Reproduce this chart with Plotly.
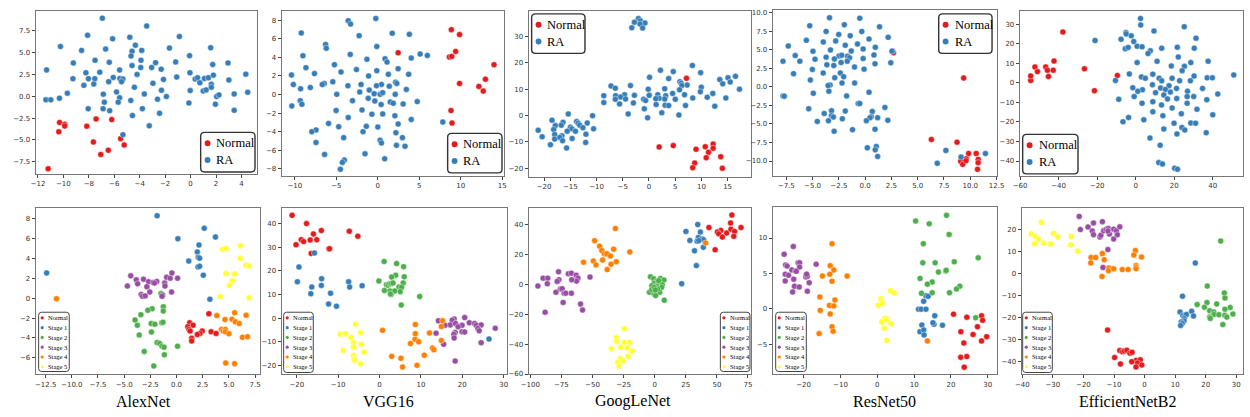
import plotly.graph_objects as go

# ---------------- DATA ----------------
# Top row: Normal vs RA
ALEX_TOP_NORMAL = [(-11.2,-8.3),(-10.3,-3.0),(-10.36,-4.07),(-9.9,-3.2),(-9.9,-3.4),(-8.16,-3.43),(-7.43,-2.6),
                   (-6.2,-2.68),(-7.64,-5.24),(-7.06,-6.67),(-6.47,-6.18),(-5.5,-4.86),(-5.22,-5.58)]
ALEX_TOP_RA = [(-6.94,8.93),(-3.45,8.03),(-8.1,6.97),(-10.23,5.69),(-4.78,6.75),(-0.88,6.82),(-6.13,6.56),(-8.57,5.24),
               (-6.68,5.39),(-4.34,5.84),(-4.6,5.13),(-3.84,5.24),(-1.66,5.5),(-0.08,4.64),(1.58,5.54),(-4.68,4.6),
               (-3.9,4.11),(-7.51,4.11),(-6.39,3.88),(-9.22,3.81),(-2.75,3.84),(-1.17,3.92),(2.94,3.81),(1.74,3.62),
               (-4.6,3.5),(-3.92,3.28),(-3.06,3.28),(-11.32,3.01),(-2.31,3.09),(-8.23,2.68),(-7.14,2.75),(-5.58,3.0),
               (-4.21,2.49),(-0.05,2.68),(4.34,2.52),(-1.09,2.19),(-6.08,2.15),(-5.56,2.03),(-5.32,1.96),(-7.53,2.0),
               (-8.03,2.0),(-9.25,2.0),(-5.43,1.66),(-6.44,1.66),(-2.13,1.92),(0.36,1.96),(0.55,2.11),(1.09,2.03),
               (1.4,2.11),(1.79,2.41),(3.01,1.85),(0.73,1.54),(-2.96,1.47),(-7.61,1.39),(-8.39,1.24),(1.63,1.36),
               (1.63,1.02),(-4.42,1.02),(-9.69,0.34),(-5.82,0.49),(-2.29,0.68),(-0.03,0.64),(0.99,0.6),(1.22,0.72),
               (-6.86,0.23),(-3.64,0.26),(2.05,-0.04),(2.23,0.15),(3.43,0.26),(4.49,0.45),(-11.38,-0.42),(-10.99,-0.42),
               (-10.31,-0.23),(-5.58,-0.19),(-1.9,-0.04),(-2.6,-0.34),(-6.78,-0.68),(-5.69,-0.68),(-4.7,-0.49),
               (-0.13,-0.79),(1.95,-0.91),(-8.05,-1.43),(-6.88,-1.43),(-6.36,-1.66),(-3.79,-1.43),(3.43,-1.62),
               (-2.44,-1.96),(-4.57,-2.22),(-3.25,-3.39),(-5.32,-4.41)]

VGG_TOP_NORMAL = [(8.86,6.97),(9.85,6.44),(9.38,4.63),(8.62,4.03),(8.9,4.1),(2.45,4.49),(14.0,3.21),(12.97,1.65),
                  (9.85,1.19),(12.18,0.87),(12.7,0.37),(8.82,-1.72),(8.94,-3.07)]
VGG_TOP_RA = [(-0.24,8.17),(-3.56,7.93),(-3.28,7.57),(-9.22,6.62),(1.74,6.58),(3.8,6.47),(-2.25,6.33),(-6.29,5.37),
              (-6.21,4.98),(-0.12,5.16),(-3.32,4.31),(-9.02,4.17),(5.1,4.35),(5.97,4.2),(4.03,3.92),(-1.31,3.78),
              (0.87,3.85),(1.11,3.49),(-5.22,3.21),(-8.66,2.89),(2.45,2.78),(-2.57,2.68),(-4.43,2.43),(-0.12,2.57),
              (-7.63,2.25),(1.27,2.18),(3.72,2.18),(-10.4,2.11),(-1.11,2.0),(-5.42,1.37),(-6.45,1.19),(-6.69,1.08),
              (-10.17,1.08),(-2.02,1.08),(0.44,1.08),(-0.16,0.94),(-3.6,0.94),(1.38,0.9),(2.14,1.33),(2.29,1.19),
              (-8.13,0.76),(-9.3,0.62),(3.44,0.55),(-2.18,0.27),(-1.03,0.48),(-0.44,0.09),(0.28,0.02),(0.59,0.2),
              (2.1,0.02),(-4.94,0.02),(-9.34,-0.66),(-9.14,-1.05),(-10.36,-1.22),(-3.05,-0.66),(-1.15,-0.41),
              (-0.36,-0.69),(1.5,-0.8),(1.86,-0.94),(3.05,-1.01),(4.75,-0.76),(0.4,-1.08),(-5.02,-1.72),(-1.9,-1.65),
              (-0.71,-2.11),(0.59,-2.08),(2.06,-2.29),(-3.56,-2.47),(4.03,-2.68),(7.83,-2.96),(-5.93,-3.1),(2.45,-3.17),
              (-1.38,-3.42),(-4.71,-3.46),(0.0,-3.49),(-7.44,-3.81),(-7.95,-3.99),(2.18,-4.1),(-1.78,-3.99),
              (-4.11,-4.63),(2.97,-4.63),(0.28,-4.91),(0.44,-5.2),(-7.44,-5.16),(2.25,-5.45),(3.28,-5.56),
              (-6.41,-6.44),(-1.54,-6.37),(0.83,-6.9),(-4.03,-7.04),(-4.27,-7.29),(-4.51,-8.03)]

GOOG_TOP_NORMAL = [(7.15,14.08),(1.94,-11.9),(4.64,-11.4),(10.74,-11.8),(12.24,-10.8),(12.24,-12.4),(8.98,-12.8),
                   (11.36,-13.9),(10.92,-16.0),(13.69,-15.6),(8.72,-18.0),(8.35,-19.75),(14.0,-20.0)]
GOOG_TOP_RA = [(-2.02,36.7),(-1.65,35.8),(-2.78,35.3),(-0.77,35.0),(-1.71,34.6),(-3.28,33.2),(-1.21,33.1),
               (8.28,18.9),(2.19,17.1),(4.64,16.6),(9.86,16.2),(16.5,14.8),(15.07,14.3),(0.11,14.45),(3.76,13.96),
               (13.5,13.6),(5.9,12.8),(6.15,12.2),(15.5,12.7),(14.07,11.96),(-7.24,11.2),(-3.53,11.3),(7.28,11.5),
               (6.27,11.35),(-6.42,10.35),(-0.14,9.97),(3.0,10.1),(9.98,10.7),(17.27,9.97),(5.83,9.7),(9.8,8.98),
               (4.51,8.36),(-8.62,7.5),(-6.36,7.5),(-4.66,7.86),(-2.78,7.61),(0.05,7.61),(1.68,7.86),(3.19,7.5),
               (6.78,7.86),(12.18,8.36),(1.94,6.48),(-5.42,7.0),(-4.47,6.24),(-6.42,6.12),(1.31,6.36),(3.0,6.24),
               (8.35,6.6),(5.02,6.12),(11.11,6.87),(14.66,6.6),(-1.02,6.12),(-0.64,5.62),(-8.62,4.87),(-5.61,4.38),
               (-2.97,4.75),(1.37,4.13),(3.07,3.88),(3.76,3.76),(6.97,3.76),(12.56,3.5),(-0.89,2.5),(2.44,1.0),
               (-3.97,0.6),(5.71,0.2),(-0.26,-0.9),
               (-15.4,0.6),(-10.76,-0.1),(-18.5,-1.8),(-13.8,-2.3),(-16.4,-2.6),(-17.86,-3.83),(-16.73,-3.7),
               (-13.5,-2.96),(-11.77,-2.84),(-13.2,-3.7),(-15.0,-4.45),(-12.6,-4.6),(-10.57,-5.07),(-14.72,-5.07),
               (-18.18,-5.32),(-21.13,-5.57),(-15.6,-5.95),(-14.03,-5.95),(-12.02,-7.06),(-17.99,-7.2),(-20.38,-8.06),
               (-16.6,-7.7),(-17.99,-8.93),(-17.0,-8.3),(-14.66,-8.68),(-16.48,-9.55),(-12.08,-10.2),(-18.8,-11.05),
               (-15.72,-12.3)]

RES_TOP_NORMAL = [(2.69,4.57),(9.37,1.18),(6.3,-7.1),(8.74,-7.46),(9.09,-10.04),(9.28,-10.45),(9.62,-9.69),
                  (9.59,-9.96),(9.84,-8.98),(10.56,-8.98),(10.75,-9.78),(10.75,-10.22),(10.69,-11.11)]
RES_TOP_RA = [(-3.39,9.29),(-0.51,9.24),(-5.27,8.22),(-1.98,8.35),(1.37,8.08),(-3.71,7.46),(-0.32,7.46),(-2.51,7.06),
              (-1.42,6.88),(-5.59,6.26),(0.37,6.44),(2.19,6.66),(-3.98,6.04),(-2.8,6.17),(-0.73,5.77),(-7.31,5.5),
              (-1.89,5.59),(0.97,5.32),(-4.96,4.79),(-3.3,4.97),(-1.32,4.83),(-0.19,5.1),(2.6,4.83),(-6.65,4.21),
              (-3.71,3.99),(-2.48,4.16),(-2.23,4.25),(-1.67,4.12),(-1.48,3.9),(0.84,4.3),(-6.21,3.45),(-4.77,3.72),
              (-2.92,3.76),(-1.7,3.45),(-0.19,3.81),(-7.81,3.45),(-2.29,3.27),(0.94,3.1),(2.44,3.23),(-3.64,2.96),
              (-2.98,2.87),(-1.01,2.65),(-6.81,1.76),(-5.02,2.34),(-0.1,2.38),(-3.99,1.85),(-2.36,1.85),(-2.04,1.36),
              (-2.89,1.22),(-5.21,0.91),(-2.2,0.51),(-1.0,0.51),(-3.33,0.24),(-3.52,0.16),(-7.81,-1.23),(-7.69,-1.27),
              (-4.93,-0.87),(-3.45,-0.6),(0.37,-0.73),(-1.76,-1.23),(-0.66,-2.25),(-0.51,-2.25),(-5.37,-2.96),
              (1.88,-2.78),(-3.2,-3.23),(-1.89,-3.27),(-3.89,-3.59),(0.68,-3.32),(-3.2,-3.9),(-3.02,-4.08),(0.58,-4.03),
              (0.46,-4.17),(1.19,-4.17),(0.12,-4.57),(-2.17,-4.3),(-4.55,-4.66),(-3.49,-4.57),(2.16,-4.52),(0.94,-5.72),
              (-1.2,-5.77),(-2.95,-5.99),(0.21,-8.22),(1.06,-8.04),(0.96,-8.49),(1.19,-9.38),(7.68,-8.57),(9.12,-9.47),
              (6.86,-10.31),(11.44,-8.98),(2.55,4.8)]

EFF_TOP_NORMAL = [(-37.8,26.1),(-54.5,1.3),(-54.5,3.6),(-52.3,8.2),(-51.0,5.8),(-46.7,8.2),(-45.8,6.5),(-45.3,3.3),
                  (-42.4,11.2),(-42.8,6.5),(-26.6,7.2),(-21.4,-4.0),(-9.5,3.8)]
EFF_TOP_RA = [(2.5,33.0),(2.6,29.7),(25.2,28.8),(9.5,26.6),(-5.05,25.8),(-4.9,25.1),(-2.3,24.1),(31.3,22.9),
              (-21.1,21.7),(-7.6,22.4),(-1.0,21.2),(0.75,18.8),(3.3,18.5),(-5.4,17.5),(-3.9,18.2),(13.5,17.8),
              (21.6,18.3),(30.4,17.8),(7.6,16.5),(6.4,15.1),(22.1,13.3),(0.75,10.4),(11.1,11.1),(28.6,10.4),
              (37.6,11.1),(18.5,8.7),(25.3,8.5),(24.1,6.3),(-3.3,4.6),(8.9,4.5),(30.3,3.5),(50.9,4.1),(-10.5,1.25),
              (3.0,3.1),(5.0,2.4),(12.2,2.4),(18.9,2.4),(37.1,2.6),(39.8,2.6),(13.5,1.1),(22.8,1.1),(28.4,1.1),
              (8.7,-0.9),(17.3,-1.45),(-1.5,-2.5),(3.5,-3.5),(12.9,-2.6),(21.2,-2.8),(34.7,-2.8),(1.1,-4.3),
              (26.9,-4.3),(15.4,-3.3),(10.3,-5.0),(18.0,-4.7),(-0.8,-7.0),(14.6,-6.2),(26.7,-7.0),(30.1,-7.0),
              (42.6,-5.7),(-8.8,-8.4),(21.3,-8.0),(16.5,-8.2),(36.9,-8.6),(8.9,-9.6),(3.3,-10.4),(26.7,-10.4),
              (13.4,-11.3),(18.9,-12.8),(31.8,-13.5),(8.9,-14.8),(23.7,-15.8),(14.1,-16.8),(40.0,-16.3),(-3.7,-17.7),
              (4.2,-18.9),(-6.6,-19.9),(19.9,-20.6),(28.6,-20.5),(31.1,-20.6),(24.0,-22.8),(14.6,-23.6),(25.5,-24.1),
              (21.4,-26.1),(36.6,-25.5),(7.4,-28.2),(12.7,-31.9),(12.0,-40.8),(13.9,-41.5),(20.2,-43.7),(21.7,-44.2)]

# Bottom row: Normal + Stage 1..5
ALEX_BOT = {
    "Normal": [(3.09,-1.56),(1.26,-2.48),(1.58,-2.72),(1.08,-2.88),(1.2,-3.15),(1.3,-3.31),(2.46,-3.31),(2.24,-3.55),
               (1.99,-3.65),(3.31,-3.38),(3.78,-3.55),(1.45,-4.04),(1.45,-4.31)],
    "Stage 1": [(-1.85,8.33),(2.65,7.07),(0.13,6.01),(3.72,6.18),(2.15,5.38),(1.99,4.68),(1.17,3.75),(2.08,4.15),
                (2.21,4.05),(2.05,3.16),(2.21,3.22),(2.56,2.33),(-12.4,2.56),(3.19,-0.1)],
    "Stage 2": [(-1.48,0.47),(-1.26,-0.86),(-1.26,-1.29),(-2.33,-1.06),(-2.74,-1.22),(-3.4,-1.66),(-3.96,-2.19),
                (-3.74,-2.72),(-2.42,-2.55),(-2.07,-2.62),(-1.41,-2.48),(-1.29,-2.42),(-2.39,-3.41),(-3.56,-3.71),
                (-1.85,-4.47),(-1.6,-4.57),(-1.38,-4.84),(-1.19,-4.94),(0.1,-4.84),(-3.08,-5.37),(-1.16,-5.7),
                (-2.17,-6.83)],
    "Stage 3": [(-4.37,2.26),(-4.69,1.23),(-3.84,1.86),(-3.71,1.46),(-3.15,1.93),(-2.67,1.66),(-2.23,1.6),(-1.89,1.7),
                (-2.1,1.53),(-2.83,1.17),(-2.55,0.63),(-3.37,0.37),(-3.24,0.2),(-2.99,0.24),(-1.13,1.53),(-0.94,2.13),
                (-1.1,1.23),(-0.6,2.03),(-0.44,2.56),(0.1,2.03),(-1.32,0.33),(-1.38,0.2),(-0.47,0.63)],
    "Stage 4": [(-11.46,-0.06),(3.85,-1.75),(5.55,-1.46),(6.65,-1.72),(4.63,-2.15),(5.3,-2.12),(5.61,-2.38),
                (5.99,-2.55),(4.29,-3.15),(4.48,-3.31),(4.67,-3.15),(4.67,-3.38),(5.01,-3.58),(6.3,-3.94),(6.78,-3.88),
                (4.7,-6.53),(5.55,-6.6)],
    "Stage 5": [(4.41,4.91),(4.73,5.01),(6.11,5.31),(6.08,4.05),(6.62,3.32),(6.93,3.26),(4.73,2.49),(5.55,2.46),
                (5.33,1.76),(5.04,1.3),(4.16,0.17),(6.93,0.04)],
}
VGG_BOT = {
    "Normal": [(-21.14,43.5),(-17.65,40.0),(-14.07,37.1),(-7.31,36.8),(-15.98,35.6),(-5.25,34.7),(-18.92,33.2),
               (-18.36,32.4),(-16.77,33.1),(-15.18,33.2),(-20.19,31.1),(-12.24,29.4),(-12.08,29.4),(-16.53,27.4)],
    "Stage 1": [(-15.74,27.6),(-19.48,21.7),(-19.87,15.4),(-14.0,16.7),(-14.07,13.9),(-16.38,13.2),(-7.47,15.4),
                (-7.23,13.2),(-4.21,13.75),(-16.61,10.4),(-11.84,10.6),(-12.32,6.0),(-10.41,5.1),(26.47,-8.75)],
    "Stage 2": [(1.11,24.0),(4.13,23.1),(5.8,21.8),(3.9,18.2),(2.94,17.4),(5.96,17.5),(-0.16,15.8),(1.67,14.2),
                (2.07,14.0),(2.46,14.6),(2.86,14.7),(3.26,14.9),(5.72,14.9),(4.69,13.2),(5.33,13.1),(1.19,11.7),
                (2.54,11.5),(3.66,11.5),(5.0,11.25),(2.78,10.0),(2.62,10.3),(9.7,9.2),(5.25,5.6)],
    "Stage 3": [(14.23,-1.1),(20.59,0.3),(18.04,-0.3),(17.57,-0.8),(17.09,-2.8),(21.7,-1.9),(18.36,-2.2),(22.97,-2.2),
                (23.37,-2.9),(19.95,-3.0),(18.99,-3.6),(24.56,-2.8),(15.82,-3.0),(23.77,-4.3),(24.09,-5.3),
                (13.67,-6.3),(19.95,-5.7),(20.59,-5.8),(18.28,-6.0),(17.97,-6.8),(18.04,-8.3),(15.5,-11.0),
                (24.56,-10.3),(27.98,-4.2),(18.28,-18.1)],
    "Stage 4": [(15.26,-1.1),(14.94,-3.5),(8.66,-2.6),(0.72,-5.1),(8.66,-6.5),(12.08,-6.25),(14.94,-9.4),(8.59,-8.9),
                (9.46,-9.9),(7.47,-10.7),(12.8,-12.6),(13.12,-13.3),(10.81,-15.6),(2.94,-16.1),(5.17,-16.9),
                (9.06,-19.9),(5.56,-20.6)],
    "Stage 5": [(-5.8,-2.5),(-4.61,-6.0),(-9.54,-6.8),(-8.27,-6.5),(-6.92,-8.2),(-6.28,-10.3),(-4.45,-11.0),
                (-6.28,-12.2),(-8.74,-13.6),(-3.74,-14.3),(-6.28,-15.7),(-6.2,-17.1),(-6.12,-17.6),(-4.61,-19.2)],
}
GOOG_BOT = {
    "Normal": [(62.05,46.6),(61.0,41.3),(69.4,38.2),(43.6,38.2),(61.3,37.1),(53.1,36.3),(64.2,35.6),(50.4,35.2),
               (51.5,34.0),(57.8,34.5),(54.4,31.8),(63.6,32.3),(48.6,23.3)],
    "Stage 1": [(34.6,40.2),(25.1,35.6),(36.7,35.2),(35.1,31.6),(28.3,29.6),(38.0,30.5),(39.3,30.1),(34.1,29.0),
                (35.4,29.4),(39.1,25.0),(32.0,22.6),(33.5,12.7),(21.7,0.55)],
    "Stage 2": [(-3.4,5.2),(-0.8,3.9),(4.5,4.1),(7.4,3.0),(1.3,2.1),(-0.5,0.8),(2.9,0.8),(6.1,-0.1),(-2.3,-0.8),
                (1.9,-1.4),(5.6,-1.9),(-4.2,-5.2),(-0.5,-6.1),(1.6,-4.5),(4.0,-5.2),(0.8,-7.4),(7.7,-10.5),
                (-2.35,-3.4),(2.4,-3.0),(-0.5,-1.9),(3.2,2.6),(0.5,-3.6)],
    "Stage 3": [(-93.9,-1.0),(-89.7,4.3),(-86.0,4.3),(-86.3,0.55),(-77.3,8.5),(-77.0,3.2),(-78.4,2.1),(-75.7,-3.0),
                (-74.4,-2.75),(-79.4,-5.2),(-72.8,-5.8),(-71.5,-5.8),(-67.0,-5.8),(-73.6,-12.0),(-69.4,7.2),
                (-67.0,7.6),(-63.1,6.3),(-61.7,4.3),(-62.8,2.3),(-66.7,3.2),(-52.0,5.0),(-59.6,-13.1),(-58.0,-17.1),
                (-88.1,-18.6)],
    "Stage 4": [(-31.6,37.6),(-48.3,29.4),(-44.3,25.7),(-42.5,22.8),(-33.0,23.7),(-20.0,21.9),(-40.4,20.6),
                (-38.5,20.6),(-35.6,19.1),(-41.9,16.4),(-49.3,15.8),(-57.2,14.9),(-30.9,15.3),(-47.2,13.1),
                (-35.1,13.6),(-38.2,10.0),(40.9,27.9)],
    "Stage 5": [(-24.5,-29.6),(-30.9,-35.6),(-30.6,-38.2),(-24.5,-38.9),(-20.3,-38.9),(-27.4,-42.0),(-34.8,-43.1),
                (-22.1,-42.6),(-18.2,-44.6),(-21.4,-48.2),(-27.7,-49.7),(-25.6,-51.2),(-29.5,-52.1),(-28.7,-54.8)],
}
RES_BOT = {
    "Normal": [(20.7,-0.73),(24.3,-1.15),(28.3,-0.96),(28.6,-1.6),(27.2,-2.5),(22.7,-3.2),(26.0,-3.6),(23.5,-4.8),
               (28.3,-4.5),(29.7,-3.9),(22.65,-6.8),(24.3,-6.7),(23.6,-8.2)],
    "Stage 1": [(11.2,-0.03),(11.9,-0.03),(13.2,-0.03),(12.6,1.08),(13.2,1.87),(13.8,1.78),(15.6,-0.96),(12.1,-2.26),
                (15.4,-2.17),(15.1,-1.94),(17.7,-2.3),(11.6,-3.2),(12.6,-2.96),(12.7,-3.66)],
    "Stage 2": [(10.4,12.4),(18.8,13.2),(14.1,12.0),(19.5,10.5),(12.5,9.2),(27.4,7.2),(12.35,6.5),(15.7,6.5),
                (20.9,6.65),(18.6,5.35),(18.7,5.45),(16.6,5.2),(11.6,4.3),(14.9,3.8),(13.6,3.5),(22.4,3.2),
                (21.5,2.8),(12.0,2.2),(14.9,2.3),(19.6,2.3),(26.7,-1.24)],
    "Stage 3": [(-25.3,7.7),(-22.8,8.8),(-24.9,6.2),(-24.5,6.05),(-21.5,6.5),(-21.1,6.5),(-16.6,6.3),(-23.2,5.5),
                (-22.2,5.35),(-21.1,5.9),(-25.0,4.9),(-24.1,4.75),(-22.0,5.3),(-19.2,4.85),(-19.4,4.5),(-19.0,4.6),
                (-19.2,4.9),(-22.7,4.2),(-25.0,3.95),(-22.5,3.2),(-21.2,3.1),(-18.5,3.7),(-23.0,2.4),(-19.0,2.5)],
    "Stage 4": [(-12.3,9.2),(-12.8,6.1),(-11.8,5.5),(-14.9,4.65),(-12.9,4.9),(-8.2,4.65),(-12.3,3.9),(-15.6,1.7),
                (-11.5,1.27),(-13.0,0.5),(-11.8,0.43),(-15.5,-0.2),(-12.8,-0.7),(-12.3,-2.5),(-12.0,-3.14),
                (-15.8,-3.47),(13.6,-4.5)],
    "Stage 5": [(3.6,2.57),(4.6,2.24),(0.9,1.45),(1.2,1.13),(0.3,0.48),(1.3,0.76),(2.1,-1.3),(2.7,-1.4),(1.2,-1.84),
                (2.4,-1.6),(3.75,-2.08),(1.9,-2.7),(2.6,-4.45)],
}
EFF_BOT = {
    "Normal": [(-12.1,-25.6),(-8.1,-34.9),(-7.2,-35.5),(-6.6,-35.1),(-5.8,-34.8),(-4.8,-36.1),(-4.1,-35.7),
               (-2.8,-39.4),(-1.4,-39.1),(-9.8,-38.1),(-7.9,-41.0),(-4.2,-40.0),(-2.3,-40.6),(-2.8,-42.4),(-0.9,-41.5)],
    "Stage 1": [(16.6,4.9),(12.4,-10.2),(11.6,-17.4),(12.5,-18.9),(13.1,-19.2),(13.7,-18.5),(15.4,-17.1),(16.0,-19.2),
                (13.0,-20.4),(12.9,-21.4),(12.0,-21.9),(12.3,-22.6),(11.8,-23.5)],
    "Stage 2": [(24.9,14.9),(20.5,-5.6),(17.2,-14.0),(20.4,-13.1),(26.1,-8.7),(26.3,-11.0),(23.6,-13.7),(28.0,-15.3),
                (19.6,-15.2),(21.3,-16.8),(22.6,-17.4),(22.7,-18.5),(26.3,-16.1),(28.9,-18.3),(24.3,-18.6),
                (26.3,-18.9),(26.9,-19.7),(21.3,-19.7),(21.5,-20.3),(25.6,-23.1)],
    "Stage 3": [(-21.4,26.1),(-21.0,20.1),(-18.5,21.3),(-16.7,23.1),(-13.8,23.7),(-17.1,19.4),(-16.7,17.8),
                (-14.6,16.7),(-14.3,17.5),(-13.4,19.55),(-12.6,20.15),(-11.9,20.6),(-10.1,20.3),(-9.2,19.55),
                (-8.1,21.35),(-11.5,18.05),(-10.1,15.8),(-8.9,17.75),(-12.0,11.0),(-13.6,2.9),(-12.0,19.5)],
    "Stage 4": [(-13.8,9.2),(-17.5,7.4),(-16.0,7.4),(-13.2,6.4),(-3.0,10.6),(-3.5,8.5),(-1.0,7.6),(-17.6,4.9),
                (-2.8,3.8),(-2.8,3.1),(-2.8,2.3),(-11.7,2.6),(-11.8,1.4),(-10.1,2.3),(-7.3,1.9),(-5.4,1.9),(-13.9,-1.25)],
    "Stage 5": [(-33.8,23.4),(-37.1,18.05),(-29.8,18.35),(-28.4,16.7),(-35.7,16.9),(-34.8,15.8),(-24.0,16.9),
                (-36.0,13.7),(-33.0,13.9),(-30.7,13.6),(-24.2,13.1),(-21.9,10.3)],
}

MODEL_NAMES = ["AlexNet", "VGG16", "GoogLeNet", "ResNet50", "EfficientNetB2"]
TOP_CLASSES = ["Normal", "RA"]
BOT_CLASSES = ["Normal", "Stage 1", "Stage 2", "Stage 3", "Stage 4", "Stage 5"]

# ---------------- STYLE / LAYOUT ----------------
W, H = 1250, 417
COLORS = {"Normal": "#e41a1c", "RA": "#377eb8", "Stage 1": "#377eb8", "Stage 2": "#4daf4a",
          "Stage 3": "#984ea3", "Stage 4": "#ff7f00", "Stage 5": "#ffff33"}

def PX(x): return x / W
def PY(y): return 1 - y / H

panels = [
    # data, frame px (x0,x1,y0,y1), xrange, yrange, xtick(dtick,fmt), ytick(dtick,fmt), legend box (x0,y0,w,h)
    dict(data={"Normal": ALEX_TOP_NORMAL, "RA": ALEX_TOP_RA}, frame=(28, 252, 10, 175),
         xr=[-12.18, 5.22], yr=[-8.89, 9.76], xt=(2, ""), yt=(2.5, ".1f"), leg=(195, 133, 55, 40)),
    dict(data={"Normal": VGG_TOP_NORMAL, "RA": VGG_TOP_RA}, frame=(277, 502, 10, 177),
         xr=[-11.58, 15.2], yr=[-8.74, 8.99], xt=(5, ""), yt=(2, ""), leg=(445, 134, 55, 40)),
    dict(data={"Normal": GOOG_TOP_NORMAL, "RA": GOOG_TOP_RA}, frame=(527, 752, 10, 178),
         xr=[-22.95, 19.46], yr=[-23.23, 39.58], xt=(5, ""), yt=(10, ""), leg=(530, 13, 54, 40)),
    dict(data={"Normal": RES_TOP_NORMAL, "RA": RES_TOP_RA}, frame=(774, 1001, 9, 177),
         xr=[-8.79, 12.54], yr=[-12.0, 10.36], xt=(2.5, ".1f"), yt=(2.5, ".1f"), leg=(942, 13, 54, 40)),
    dict(data={"Normal": EFF_TOP_NORMAL, "RA": EFF_TOP_RA}, frame=(1024, 1250, 10, 177),
         xr=[-60.2, 55.7], yr=[-47.6, 36.9], xt=(20, ""), yt=(10, ""), leg=(1027, 135, 56, 40)),
    dict(data=ALEX_BOT, frame=(28, 255, 210, 378),
         xr=[-13.45, 7.97], yr=[-7.69, 9.06], xt=(2.5, ".1f"), yt=(2, ""), leg=(31, 315, 31, 60)),
    dict(data=VGG_BOT, frame=(277, 505, 210, 378),
         xr=[-23.66, 30.8], yr=[-23.75, 46.4], xt=(10, ""), yt=(10, ""), leg=(279, 315, 30, 61)),
    dict(data=GOOG_BOT, frame=(527, 752, 210, 378),
         xr=[-101.3, 77.4], yr=[-60.3, 51.0], xt=(25, ""), yt=(20, ""), leg=(721, 315, 30, 60)),
    dict(data=RES_BOT, frame=(774, 1001, 209, 378),
         xr=[-28.4, 32.5], yr=[-9.23, 14.3], xt=(10, ""), yt=(5, ""), leg=(777, 315, 31, 60)),
    dict(data=EFF_BOT, frame=(1026, 1250, 210, 378),
         xr=[-40.2, 32.2], yr=[-45.8, 29.7], xt=(10, ""), yt=(10, ""), leg=(1027, 315, 30, 61)),
]

fig = go.Figure()
layout = dict(width=W, height=H, margin=dict(l=0, r=0, t=0, b=0), paper_bgcolor="white",
              plot_bgcolor="white", showlegend=False)
shapes, annotations = [], []
TICKFONT = dict(family="DejaVu Sans", size=7, color="#333333")
SERIF = "Liberation Serif"

def rounded_box(x0, y0, w, h, r, lw, color):
    a0, a1 = PX(x0), PX(x0 + w)
    b0, b1 = PY(y0 + h), PY(y0)
    rx, ry = r / W, r / H
    path = (f"M {a0+rx},{b0} L {a1-rx},{b0} Q {a1},{b0} {a1},{b0+ry} L {a1},{b1-ry} Q {a1},{b1} {a1-rx},{b1} "
            f"L {a0+rx},{b1} Q {a0},{b1} {a0},{b1-ry} L {a0},{b0+ry} Q {a0},{b0} {a0+rx},{b0} Z")
    return dict(type="path", xref="paper", yref="paper", path=path,
                line=dict(color=color, width=lw), fillcolor="rgba(255,255,255,0.9)", layer="above")

for i, p in enumerate(panels):
    n = "" if i == 0 else str(i + 1)
    xa, ya = "xaxis" + n, "yaxis" + n
    fx0, fx1, fy0, fy1 = p["frame"]
    common = dict(showline=True, mirror=True, linecolor="#777777", linewidth=1, showgrid=False,
                  zeroline=False, ticks="outside", ticklen=3, tickwidth=0.8, tickcolor="#444444",
                  tickfont=TICKFONT, tick0=0)
    layout[xa] = dict(common, domain=[PX(fx0), min(PX(fx1), 1.0)], range=p["xr"], dtick=p["xt"][0],
                      tickformat=p["xt"][1], anchor="y" + n)
    layout[ya] = dict(common, domain=[PY(fy1), PY(fy0)], range=p["yr"], dtick=p["yt"][0],
                      tickformat=p["yt"][1], anchor="x" + n)
    top = i < 5
    for cls, pts in p["data"].items():
        fig.add_trace(go.Scatter(
            x=[q[0] for q in pts], y=[q[1] for q in pts], mode="markers", name=cls,
            xaxis="x" + n, yaxis="y" + n, cliponaxis=True,
            marker=dict(size=6, color=COLORS[cls], line=dict(color="white", width=0.4))))

    # legend box
    lx, ly, lw, lh = p["leg"]
    classes = TOP_CLASSES if top else BOT_CLASSES
    if top:
        shapes.append(rounded_box(lx, ly, lw, lh, 4, 1.4, "#333333"))
        rows = [ly + 11, ly + 28]
        mr, mdx, tdx, fs = 3, 7, 14, 12.5
    else:
        shapes.append(rounded_box(lx, ly, lw, lh, 3, 1.0, "#444444"))
        rows = [ly + 5.7 + k * 9.9 for k in range(6)]
        mr, mdx, tdx, fs = 1.6, 3.6, 7.5, 6.5
    for cls, ry in zip(classes, rows):
        cx = lx + mdx
        shapes.append(dict(type="circle", xref="paper", yref="paper",
                           x0=PX(cx - mr), x1=PX(cx + mr), y0=PY(ry + mr), y1=PY(ry - mr),
                           fillcolor=COLORS[cls], line=dict(width=0), layer="above"))
        annotations.append(dict(text=cls, xref="paper", yref="paper", x=PX(lx + tdx), y=PY(ry),
                                xanchor="left", yanchor="middle", showarrow=False,
                                font=dict(family=SERIF, size=fs, color="black")))

# model titles under bottom row
title_centers = [137, 385, 633, 887, 1133]
for name, cx in zip(MODEL_NAMES, title_centers):
    annotations.append(dict(text=name, xref="paper", yref="paper", x=PX(cx), y=PY(405),
                            xanchor="center", yanchor="middle", showarrow=False,
                            font=dict(family=SERIF, size=16, color="black")))

layout["shapes"] = shapes
layout["annotations"] = annotations
fig.update_layout(**layout)
fig.write_html("out.html")
